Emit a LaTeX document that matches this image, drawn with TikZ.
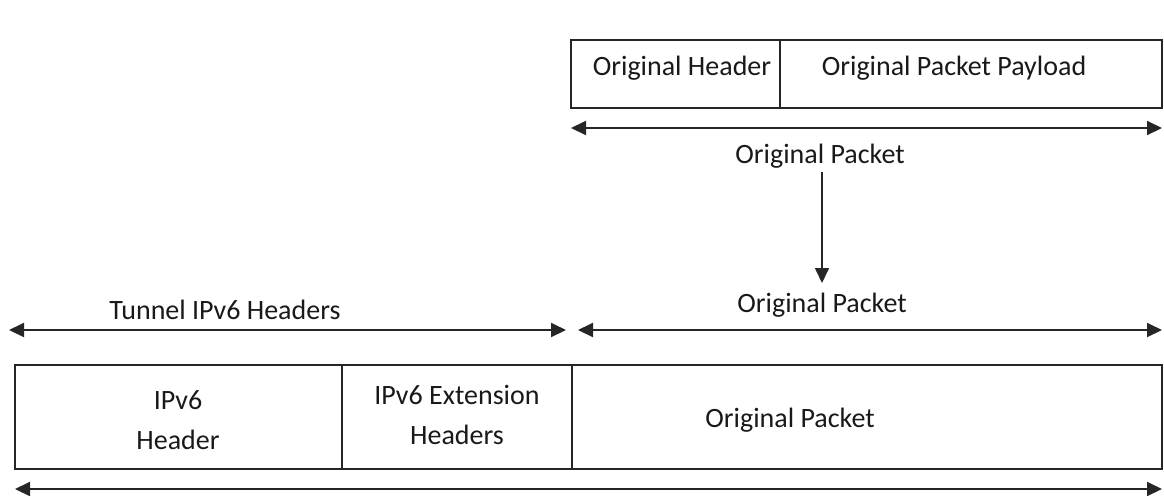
\documentclass[tikz,border=0pt]{standalone}
\usepackage{fontspec}
\setmainfont{Carlito}
\usetikzlibrary{arrows.meta}
\begin{document}
\begin{tikzpicture}[x=0.5pt,y=-0.5pt,
  tip/.style={Triangle[length=7.5pt,width=7pt]},
  frame/.style={draw=black!85,line width=1.1pt},
  divider/.style={draw=black!85,line width=0.7pt},
  span/.style={draw=black!85,line width=1pt,{Triangle[length=7.5pt,width=7pt]}-{Triangle[length=7.5pt,width=7pt]}},
  flow/.style={draw=black!85,line width=0.8pt,-{Triangle[length=7.5pt,width=7pt]}},
  lbl/.style={font=\fontsize{14pt}{17pt}\selectfont,text=black!90,inner sep=0pt,align=center}]
\useasboundingbox (0,0) rectangle (1164,495);

% original packet
\draw[frame] (571,40) rectangle (1162,108);
\draw[divider] (780,40) -- (780,108);
\node[lbl] (oh) at (682,68) {Original Header};
\node[lbl] (op) at (954,68) {Original Packet Payload};
\coordinate (t1) at (571,128);
\coordinate (t2) at (1162,128);
\draw[span] (t1) -- (t2);
\node[lbl] (oplabel) at (820,156) {Original Packet};

% encapsulation step
\coordinate (d1) at (822,172);
\coordinate (d2) at (822,283);
\draw[flow] (d1) -- (d2);

% spans above the tunnelled packet
\node[lbl] (tun) at (225,310) {Tunnel IPv6 Headers};
\node[lbl] (oplabel2) at (822,305) {Original Packet};
\coordinate (a1) at (9,330);
\coordinate (a2) at (566,330);
\coordinate (b1) at (578,330);
\coordinate (b2) at (1162,330);
\draw[span] (a1) -- (a2);
\draw[span] (b1) -- (b2);

% tunnelled packet
\draw[frame] (15,365) rectangle (1162,469);
\draw[divider] (342,365) -- (342,469);
\draw[divider] (572,365) -- (572,469);
\node[lbl] (v6) at (178,420) {IPv6\\[3pt]Header};
\node[lbl] (ext) at (457,415) {IPv6 Extension\\[3pt]Headers};
\node[lbl] (inner) at (790,420) {Original Packet};

% overall span
\coordinate (c1) at (15,489);
\coordinate (c2) at (1162,489);
\draw[span] (c1) -- (c2);
\end{tikzpicture}
\end{document}
